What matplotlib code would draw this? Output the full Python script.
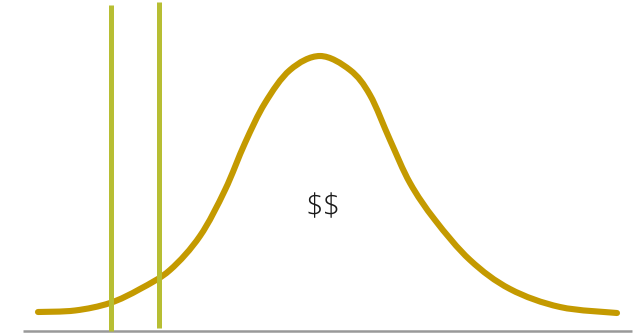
import matplotlib
matplotlib.use("Agg")
import matplotlib.pyplot as plt
from matplotlib.path import Path
from matplotlib.patches import PathPatch

# Curve points (x in px from left, height in px from bottom)
curve_x = [38, 75, 110, 140, 170, 200, 225, 245, 265, 290, 320,
           350, 370, 390, 410, 435, 470, 510, 560, 617]
curve_y = [22, 23.5, 31, 45, 64, 98, 144, 191, 231, 264, 278,
           264, 239, 194, 151, 114, 74, 45, 27, 21]

# Vertical markers: x position, bottom, top
vline_x = [111, 159]
vline_bottom = [3, 6]
vline_top = [329, 332]

baseline_y = 3
baseline_x = [23, 632]
label = "$$"
label_pos = (323, 126)


def smooth_path(xs, ys):
    """Catmull-Rom through the points, rendered as cubic Bezier segments."""
    pts = list(zip(xs, ys))
    verts = [pts[0]]
    codes = [Path.MOVETO]
    n = len(pts)
    for i in range(n - 1):
        p0 = pts[i - 1] if i > 0 else pts[i]
        p1 = pts[i]
        p2 = pts[i + 1]
        p3 = pts[i + 2] if i + 2 < n else pts[i + 1]
        c1 = (p1[0] + (p2[0] - p0[0]) / 6, p1[1] + (p2[1] - p0[1]) / 6)
        c2 = (p2[0] - (p3[0] - p1[0]) / 6, p2[1] - (p3[1] - p1[1]) / 6)
        verts += [c1, c2, p2]
        codes += [Path.CURVE4] * 3
    return Path(verts, codes)


fig = plt.figure(figsize=(6.41, 3.34), dpi=100)
ax = fig.add_axes([0, 0, 1, 1])
ax.set_xlim(0, 641)
ax.set_ylim(0, 334)
ax.axis("off")

ax.plot(baseline_x, [baseline_y, baseline_y], color="#999999", lw=1.8, solid_capstyle="butt", zorder=1)
ax.add_patch(PathPatch(smooth_path(curve_x, curve_y), facecolor="none", edgecolor="#C49A00",
                       lw=4.4, capstyle="round", joinstyle="round", zorder=2))
for x, b, t in zip(vline_x, vline_bottom, vline_top):
    ax.plot([x, x], [b, t], color="#B7BE33", lw=3.6, solid_capstyle="butt", zorder=3)

ax.text(label_pos[0], label_pos[1], label, fontsize=22, family=["Open Sans", "DejaVu Sans"],
        fontweight="light", ha="center", va="center", color="#1a1a1a", parse_math=False)

fig.savefig("out.png", dpi=100)
